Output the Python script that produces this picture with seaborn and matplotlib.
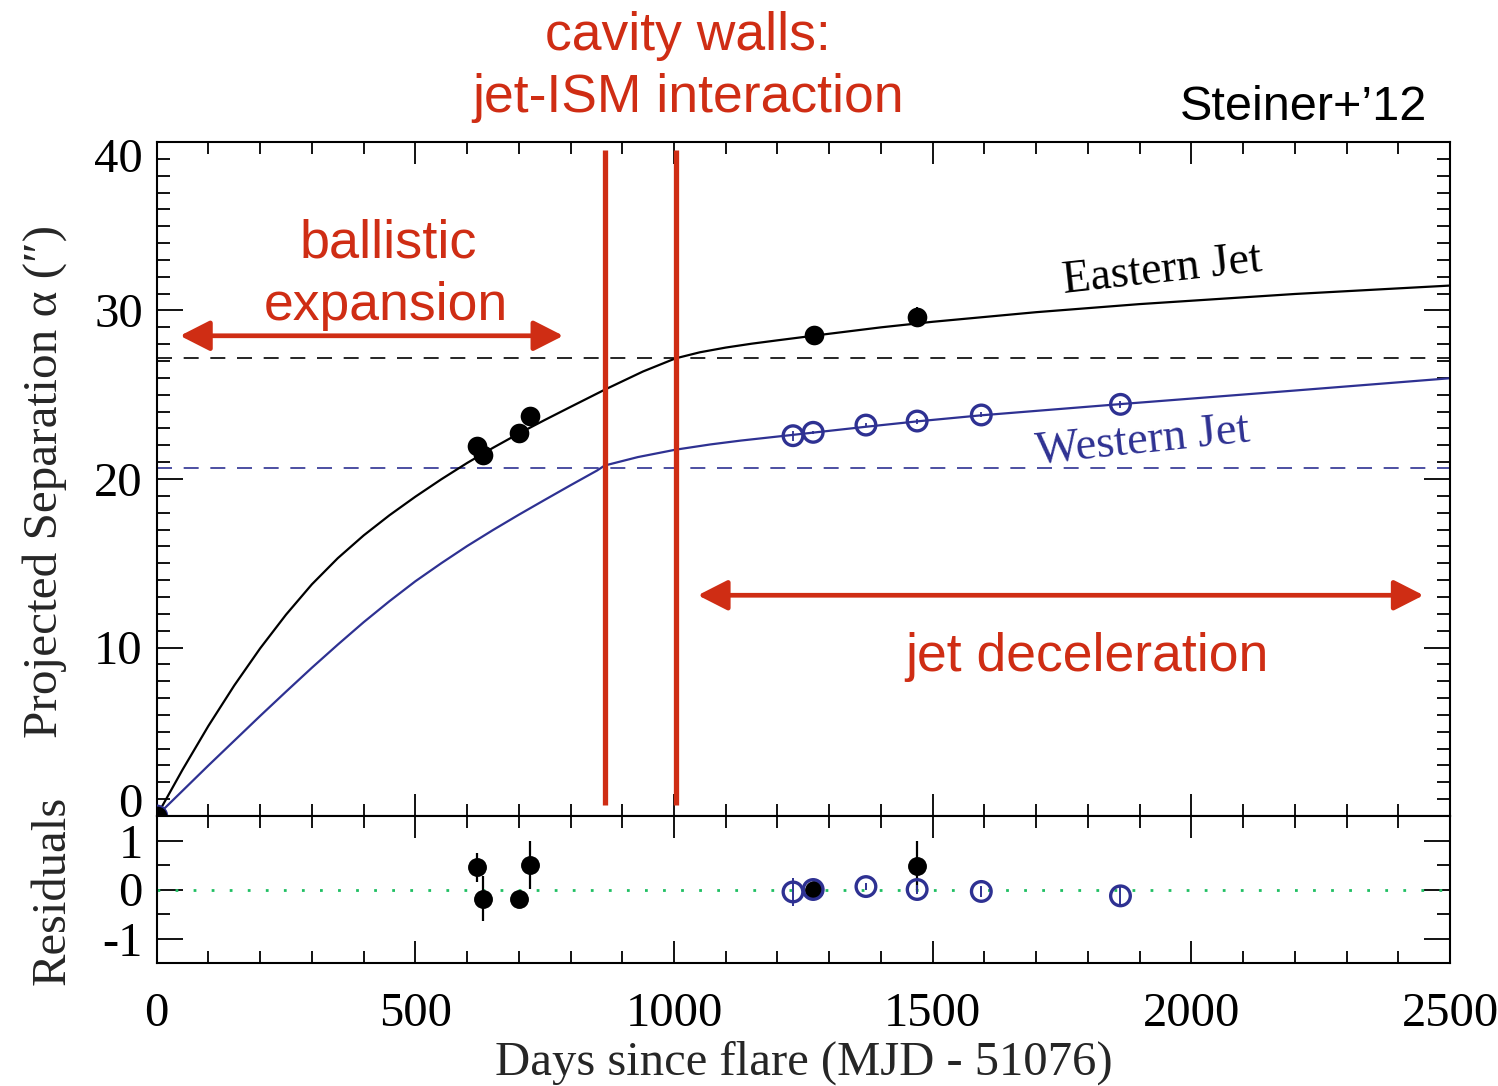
import numpy as np
import matplotlib
matplotlib.use("Agg")
import matplotlib.pyplot as plt
import seaborn as sns
from matplotlib.ticker import MultipleLocator, FixedLocator
from matplotlib.transforms import ScaledTranslation

# ---------------------------------------------------------------- data
# model tracks (days since flare, projected separation in arcsec)
east_model_days = [0, 50, 100, 150, 200, 250, 300, 350, 400, 450, 500, 550, 600,
                   650, 700, 750, 800, 866, 940, 1003, 1050, 1100, 1150, 1200,
                   1300, 1400, 1500, 1700, 1900, 2200, 2500]
east_model_sep = [0, 2.75, 5.35, 7.75, 9.95, 11.95, 13.75, 15.3, 16.65, 17.85,
                  18.95, 19.98, 20.95, 21.85, 22.7, 23.5, 24.28, 25.3, 26.38, 27.16,
                  27.52, 27.8, 28.03, 28.23, 28.62, 29.0, 29.33, 29.9, 30.38, 30.98,
                  31.48]
west_model_days = [0, 50, 100, 150, 200, 250, 300, 350, 400, 450, 500, 550, 600,
                   650, 700, 750, 800, 851, 866, 930, 1003, 1070, 1129, 1230, 1271,
                   1371, 1470, 1594, 1865, 2200, 2500]
west_model_sep = [0, 1.5, 3.0, 4.47, 5.94, 7.38, 8.8, 10.17, 11.5, 12.75, 13.93,
                  15.0, 16.02, 16.97, 17.88, 18.76, 19.63, 20.5, 20.8, 21.3, 21.74,
                  22.05, 22.28, 22.62, 22.76, 23.1, 23.42, 23.78, 24.45, 25.25, 25.98]

# measured positions
east_days = [0, 620, 630, 700, 722, 1270, 1470]
east_sep = [0, 21.96, 21.42, 22.73, 23.74, 28.55, 29.63]
east_err = [0, 0.1, 0.1, 0.1, 0.1, 0.1, 0.6]
west_days = [0, 1230, 1269, 1371, 1470, 1594, 1863]
west_sep = [0, 22.57, 22.77, 23.2, 23.44, 23.8, 24.43]
west_err = [0, 0.3, 0.1, 0.1, 0.15, 0.15, 0.2]

# residuals
east_res_days = [620, 630, 700, 722, 1270, 1470]
east_res = [0.45, -0.19, -0.19, 0.50, 0.0, 0.48]
east_res_err = [0.29, 0.46, 0.05, 0.48, 0.05, 0.5]
west_res_days = [1230, 1269, 1371, 1470, 1594, 1863]
west_res = [-0.05, 0.0, 0.06, 0.0, -0.04, -0.13]
west_res_err = [0.29, 0.05, 0.07, 0.1, 0.12, 0.2]

# cavity walls and terminal (unconfined) separations
wall_days = [866, 1003]
east_wall_sep = 27.16
west_wall_sep = 20.63

x_ticks = [0, 500, 1000, 1500, 2000, 2500]
main_y_ticks = [0, 10, 20, 30, 40]
res_y_ticks = [-1, 0, 1]

# ---------------------------------------------------------------- style
sns.set_style("ticks")
plt.rcParams["font.family"] = ["Liberation Serif", "DejaVu Serif"]
plt.rcParams["axes.unicode_minus"] = False

BLUE = "#2e3192"
RED = "#cf2d14"
GREEN = "#1fbf62"
SANS = ["Liberation Sans", "DejaVu Sans"]

W, H = 1498, 1086
fig = plt.figure(figsize=(W / 100, H / 100), dpi=100)
x0, x1 = 156.7 / W, 1450 / W
ax = fig.add_axes([x0, 1 - 816 / H, x1 - x0, (816 - 142) / H])
axr = fig.add_axes([x0, 1 - 963 / H, x1 - x0, (963 - 816) / H], sharex=ax)

# ---------------------------------------------------------------- main panel
ax.axhline(east_wall_sep, color="black", lw=1.2, ls=(0, (9, 7)), zorder=1)
ax.axhline(west_wall_sep, color=BLUE, lw=1.2, ls=(0, (9, 7)), zorder=1)

sns.lineplot(x=east_model_days, y=east_model_sep, ax=ax, color="black", lw=1.6,
             estimator=None, sort=False, zorder=2)
sns.lineplot(x=west_model_days, y=west_model_sep, ax=ax, color=BLUE, lw=1.6,
             estimator=None, sort=False, zorder=2)

ax.errorbar(east_days, east_sep, yerr=east_err, fmt="none", ecolor="black",
            elinewidth=1.5, capsize=0, zorder=3)
ax.errorbar(west_days, west_sep, yerr=west_err, fmt="none", ecolor=BLUE,
            elinewidth=1.3, capsize=0, zorder=3)
sns.scatterplot(x=west_days, y=west_sep, ax=ax, marker="o", s=200,
                facecolor="none", edgecolor=BLUE, linewidth=2.4, zorder=4)
sns.scatterplot(x=east_days, y=east_sep, ax=ax, marker="o", s=200,
                color="black", edgecolor="black", linewidth=0, zorder=5)

ax.vlines(wall_days, 0.65, 39.5, color=RED, lw=3.8, zorder=6)

arrow_style = dict(arrowstyle="<|-|>,head_length=0.55,head_width=0.28", color=RED,
                   lw=3.4, shrinkA=0, shrinkB=0, mutation_scale=33)
ax.annotate("", xy=(45, 28.5), xytext=(786, 28.5), arrowprops=arrow_style, zorder=7)
ax.annotate("", xy=(1046, 13.1), xytext=(2449, 13.1), arrowprops=arrow_style, zorder=7)

ax.set_xlim(0, 2500)
ax.set_ylim(0, 40)
ax.yaxis.set_major_locator(FixedLocator(main_y_ticks))
ax.yaxis.set_minor_locator(MultipleLocator(1))
ax.xaxis.set_major_locator(FixedLocator(x_ticks))
ax.xaxis.set_minor_locator(MultipleLocator(100))
ax.set_xlabel("")
ax.set_ylabel("")

# ---------------------------------------------------------------- residual panel
axr.axhline(0, color=GREEN, lw=2.0, ls=(0, (1, 5.5)), zorder=1)
axr.errorbar(east_res_days, east_res, yerr=east_res_err, fmt="none", ecolor="black",
             elinewidth=1.6, capsize=0, zorder=3)
axr.errorbar(west_res_days, west_res, yerr=west_res_err, fmt="none", ecolor=BLUE,
             elinewidth=1.4, capsize=0, zorder=3)
sns.scatterplot(x=east_res_days, y=east_res, ax=axr, marker="o", s=185,
                color="black", edgecolor="black", linewidth=0, zorder=4)
sns.scatterplot(x=west_res_days, y=west_res, ax=axr, marker="o", s=200,
                facecolor="none", edgecolor=BLUE, linewidth=2.4, zorder=5)
axr.set_ylim(-1.5, 1.5)
axr.yaxis.set_major_locator(FixedLocator(res_y_ticks))
axr.yaxis.set_minor_locator(MultipleLocator(0.5))
axr.set_xticks(x_ticks)
axr.set_xticklabels([str(v) for v in x_ticks])
axr.set_ylabel("")
axr.set_xlabel("Days since flare (MJD - 51076)", fontsize=35, labelpad=3.5)

# ---------------------------------------------------------------- frame & ticks
for a in (ax, axr):
    for sp in a.spines.values():
        sp.set_visible(True)
        sp.set_linewidth(1.5)
        sp.set_color("black")
    a.tick_params(axis="both", which="both", direction="in", top=True, right=True,
                  width=1.3, colors="black", labelsize=35)
    a.tick_params(axis="y", which="major", length=18.5, pad=10)
    a.tick_params(axis="y", which="minor", length=9.5)
    a.tick_params(axis="x", which="major", length=16, pad=21)
    a.tick_params(axis="x", which="minor", length=8.3)
ax.tick_params(axis="x", labelbottom=False)

ax.set_yticklabels([str(v) for v in main_y_ticks])
axr.set_yticklabels([str(v) for v in res_y_ticks])

# end labels of the upper panel sit inside the frame
for lab in ax.get_yticklabels():
    if lab.get_text() == "40":
        lab.set_transform(lab.get_transform() + ScaledTranslation(0, -0.13, fig.dpi_scale_trans))
    if lab.get_text() == "0":
        lab.set_transform(lab.get_transform() + ScaledTranslation(0, 0.16, fig.dpi_scale_trans))

fig.text(45 / W, 1 - 482 / H, "Projected Separation α (″)", rotation=90,
         ha="center", va="center", fontsize=35.5)
fig.text(53 / W, 1 - 890 / H, "Residuals", rotation=90,
         ha="center", va="center", fontsize=35)

# ---------------------------------------------------------------- annotations
fig.text(688 / W, 1 - 50 / H, "cavity walls:", color=RED, family=SANS,
         fontsize=38.5, ha="center", va="baseline")
fig.text(688 / W, 1 - 112 / H, "jet-ISM interaction", color=RED, family=SANS,
         fontsize=38.5, ha="center", va="baseline")
fig.text(388 / W, 1 - 258 / H, "ballistic", color=RED, family=SANS,
         fontsize=39, ha="center", va="baseline")
fig.text(386 / W, 1 - 320 / H, "expansion", color=RED, family=SANS,
         fontsize=38.5, ha="center", va="baseline")
fig.text(1087 / W, 1 - 671 / H, "jet deceleration", color=RED, family=SANS,
         fontsize=38.5, ha="center", va="baseline")
fig.text(1303 / W, 1 - 120 / H, "Steiner+\u201912", color="black", family=SANS,
         fontsize=35, ha="center", va="baseline")
fig.text(1162 / W, 1 - 271 / H, "Eastern Jet", color="black", fontsize=33,
         rotation=6.3, ha="center", va="center", rotation_mode="anchor")
fig.text(1143 / W, 1 - 441 / H, "Western Jet", color=BLUE, fontsize=33.5,
         rotation=6.0, ha="center", va="center", rotation_mode="anchor")

fig.savefig("out.png", dpi=100)
